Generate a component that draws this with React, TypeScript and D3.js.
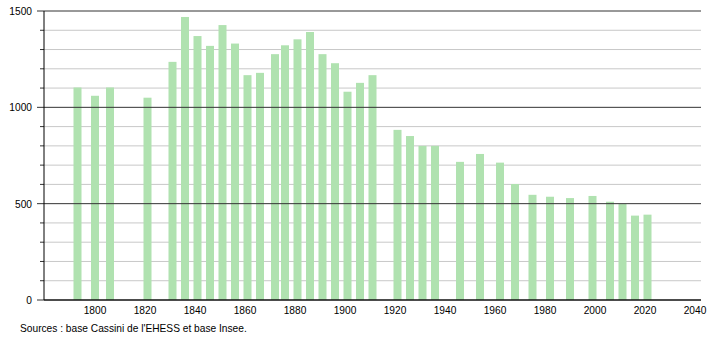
import React from "react";
import * as d3 from "d3";

const years = [1793, 1800, 1806, 1821, 1831, 1836, 1841, 1846, 1851, 1856, 1861, 1866, 1872, 1876, 1881, 1886, 1891, 1896, 1901, 1906, 1911, 1921, 1926, 1931, 1936, 1946, 1954, 1962, 1968, 1975, 1982, 1990, 1999, 2006, 2011, 2016, 2021];
const population = [1103, 1060, 1103, 1050, 1236, 1469, 1370, 1319, 1427, 1331, 1167, 1179, 1276, 1322, 1353, 1391, 1276, 1229, 1081, 1127, 1167, 883, 851, 800, 800, 717, 758, 713, 602, 546, 536, 529, 540, 510, 498, 438, 443];
const xTicks = [1800, 1820, 1840, 1860, 1880, 1900, 1920, 1940, 1960, 1980, 2000, 2020, 2040];
const yMajor = [0, 500, 1000, 1500];
const yMinor = d3.range(100, 1500, 100).filter((v) => v % 500 !== 0);
const sourceText = "Sources : base Cassini de l'EHESS et base Insee.";

export default function App() {
  const W = 710, H = 340;
  const left = 44, right = 701, top = 11, bottom = 300;
  const x = d3.scaleLinear().domain([1779.6, 2042.4]).range([left, right]);
  const y = d3.scaleLinear().domain([0, 1500]).range([bottom, top]);
  const barW = 8;
  const font = "Liberation Sans, Arial, sans-serif";
  const fs = 10.2;
  return (
    <svg width={W} height={H} style={{ position: "absolute", left: 0, top: 0 }}>
      <rect width={W} height={H} fill="#fff" />
      {yMinor.map((v) => (
        <g key={"mi" + v}>
          <line x1={left} x2={right} y1={y(v)} y2={y(v)} stroke="#c8c8c8" strokeWidth={1} />
          <line x1={left - 4} x2={left} y1={y(v)} y2={y(v)} stroke="#333" strokeWidth={1} />
        </g>
      ))}
      {years.map((yr, i) => (
        <rect key={yr} x={x(yr) - barW / 2} y={y(population[i])} width={barW} height={bottom - y(population[i])} fill="#b0e2b0" />
      ))}
      {yMajor.map((v) => (
        <g key={"ma" + v}>
          <line x1={left} x2={right} y1={y(v)} y2={y(v)} stroke="#333" strokeWidth={1} />
          <line x1={left - 7} x2={left} y1={y(v)} y2={y(v)} stroke="#333" strokeWidth={1} />
          <text x={32} y={y(v) + 4} textAnchor="end" fontFamily={font} fontSize={fs} fill="#000">{v}</text>
        </g>
      ))}
      <line x1={left} x2={left} y1={top} y2={bottom} stroke="#000" strokeWidth={1} />
      <line x1={left} x2={right} y1={bottom} y2={bottom} stroke="#000" strokeWidth={1.2} />
      {xTicks.map((t) => (
        <text key={t} x={x(t)} y={314} textAnchor="middle" fontFamily={font} fontSize={fs} fill="#000">{t}</text>
      ))}
      <text x={20} y={332} fontFamily={font} fontSize={fs} fill="#000">{sourceText}</text>
    </svg>
  );
}
